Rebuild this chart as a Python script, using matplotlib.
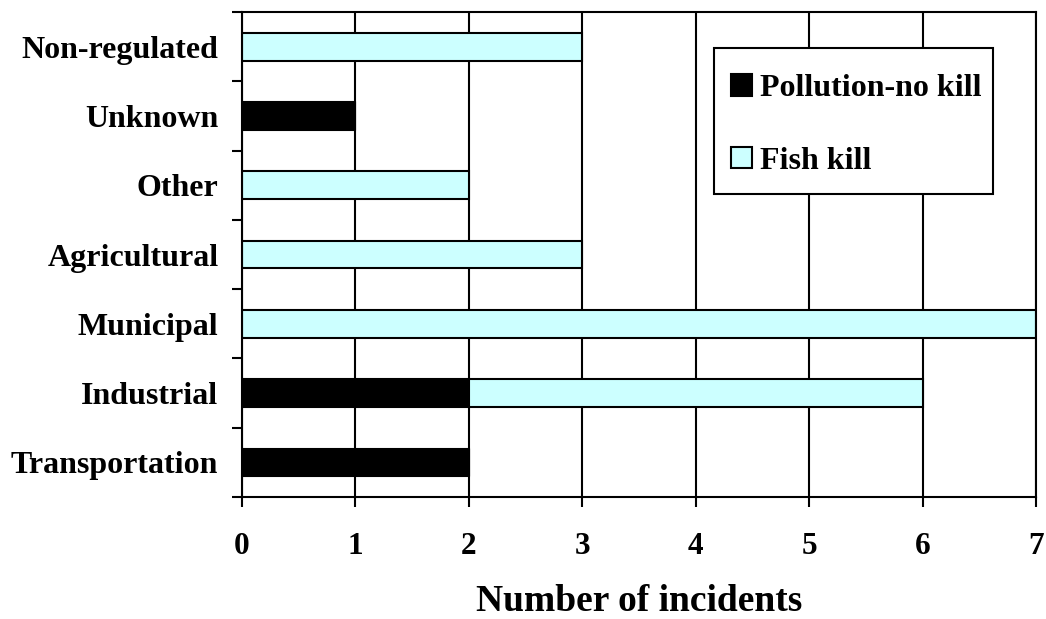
import matplotlib.pyplot as plt
import matplotlib.patches as patches
import numpy as np

plt.rcParams['font.family'] = ['Liberation Serif', 'DejaVu Serif']
plt.rcParams['font.weight'] = 'bold'

categories = ['Transportation', 'Industrial', 'Municipal', 'Agricultural',
              'Other', 'Unknown', 'Non-regulated']
no_kill = [2, 2, 0, 0, 0, 1, 0]
fish_kill = [0, 4, 7, 3, 2, 0, 3]

fig = plt.figure(figsize=(10.46, 6.19), dpi=100)
ax = fig.add_axes([0.2314, 0.197, 0.759, 0.7836])

y = np.arange(len(categories))
ax.barh(y, no_kill, height=0.4, color='black', edgecolor='black',
        linewidth=1.5, label='Pollution-no kill')
ax.barh(y, fish_kill, left=no_kill, height=0.4, color='#CCFFFF',
        edgecolor='black', linewidth=1.5, label='Fish kill')

ax.set_xlim(0, 7)
ax.set_ylim(-0.5, len(categories) - 0.5)
ax.set_xticks(range(8))
ax.set_yticks(y)
ax.set_yticklabels(categories)
# ticks between the categories
ax.set_yticks(np.arange(-0.5, len(categories), 1), minor=True)
ax.tick_params(axis='y', which='major', length=0, pad=17, labelsize=23)
ax.tick_params(axis='y', which='minor', length=7, width=1.5, direction='out')
ax.tick_params(axis='x', length=7, width=1.5, direction='out', pad=18,
               labelsize=22.5)
for lab in ax.get_xticklabels() + ax.get_yticklabels():
    lab.set_fontweight('bold')

ax.set_axisbelow(True)
ax.grid(axis='x', color='black', linewidth=1.5)
for s in ax.spines.values():
    s.set_linewidth(1.5)

ax.set_xlabel('Number of incidents', fontsize=27, fontweight='bold', labelpad=16.5)

# legend box drawn by hand: wider vertical padding than horizontal
box = patches.Rectangle((0.5945, 0.6247), 0.3513, 0.3011, transform=ax.transAxes,
                        facecolor='white', edgecolor='black', linewidth=1.5,
                        zorder=4.5)
ax.add_patch(box)
leg = ax.legend(loc='upper left', bbox_to_anchor=(0.616, 0.872), fontsize=23,
                frameon=False, borderpad=0, labelspacing=1.37,
                handlelength=0.65, handleheight=0.65, handletextpad=0.25,
                borderaxespad=0)
for t in leg.get_texts():
    t.set_fontweight('bold')

fig.savefig('out.png', dpi=100)
